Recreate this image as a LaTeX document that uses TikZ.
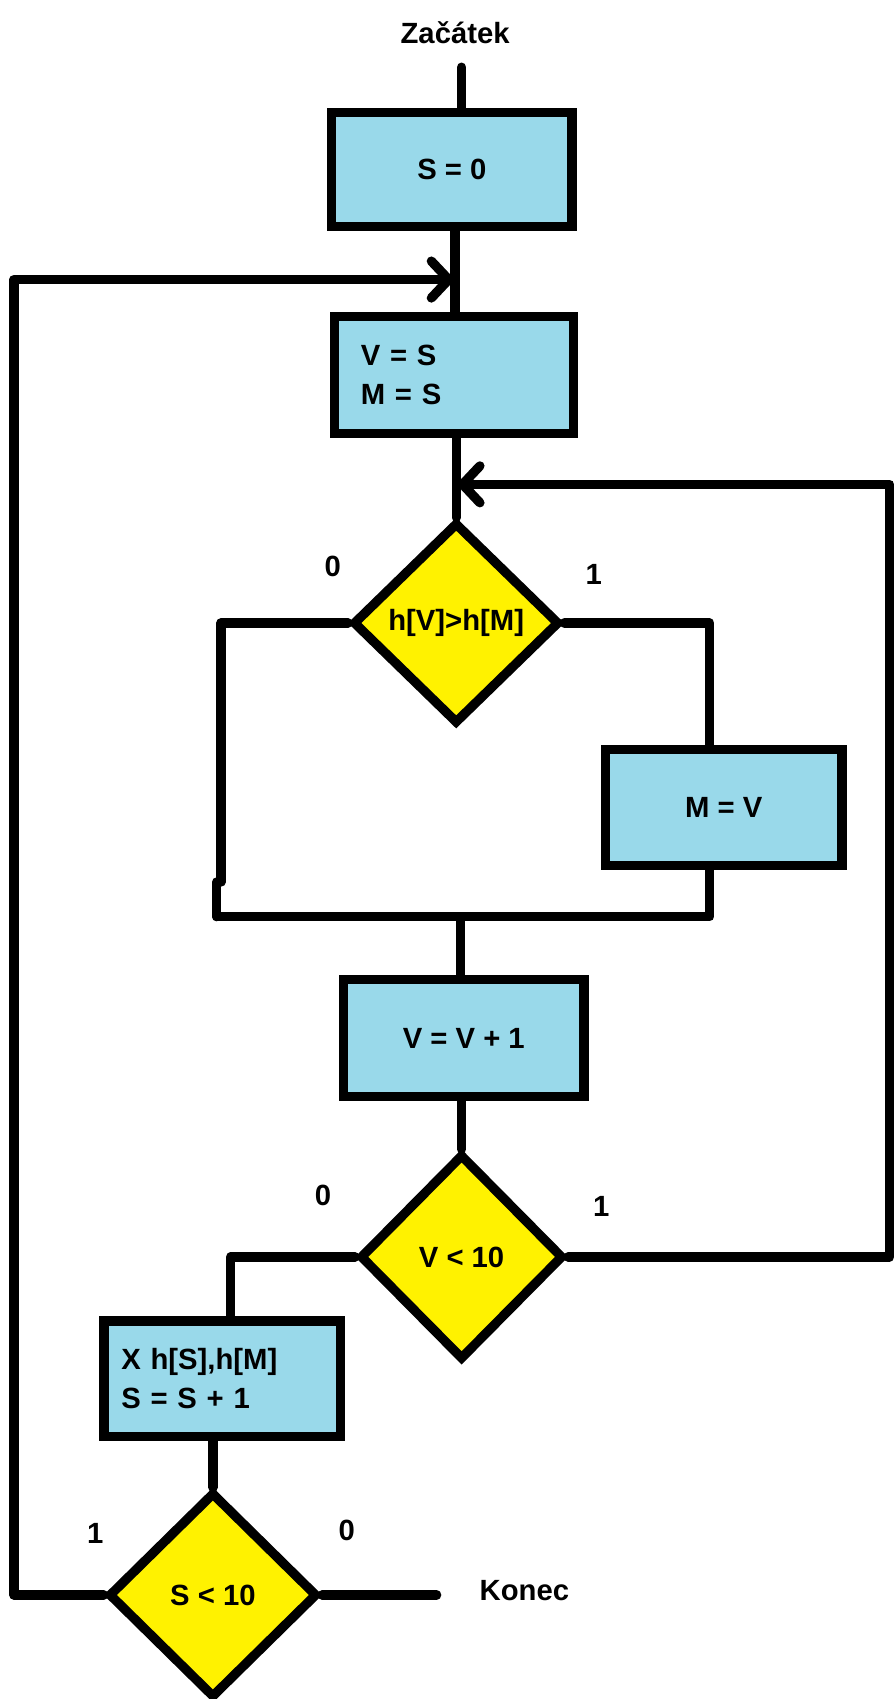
\documentclass[tikz,border=0pt]{standalone}
\usepackage{fontspec}
\setmainfont{Liberation Sans}
\usetikzlibrary{shapes.geometric,arrows.meta}
\definecolor{boxblue}{HTML}{99D9EA}
\definecolor{diayellow}{HTML}{FFF200}
\begin{document}
\begin{tikzpicture}[x=0.5pt,y=-0.5pt,
  every node/.style={font=\fontsize{13.5}{18}\selectfont\bfseries},
  flow/.style={line width=4.3pt, line cap=round, line join=round},
  barb/.style={flow, -{Straight Barb[length=8pt,width=17pt,line cap=round]}},
  procbox/.style={draw, line width=4.3pt, line join=miter, fill=boxblue,
    rectangle, inner sep=0pt, align=center},
  decision/.style={draw, line width=4.3pt, line join=miter, fill=diayellow,
    diamond, inner sep=0pt, aspect=1},
  lbl/.style={inner sep=0pt}]
\useasboundingbox (0,0) rectangle (825,1568);

% process boxes
\node[procbox, minimum width=111pt, minimum height=52.5pt] (b1) at (417,156.5) {S = 0};
\node[procbox, minimum height=54pt, text width=86pt, inner xsep=12pt, align=left]
  (b2) at (419,346) {V = S\\M = S};
\node[procbox, minimum width=109pt, minimum height=53.5pt] (bm) at (668,745.5) {M = V};
\node[procbox, minimum width=111pt, minimum height=54pt] (b3) at (428,958) {V = V + 1};
\node[procbox, minimum height=53.5pt, text width=93pt, inner xsep=8pt, align=left]
  (bx) at (205,1272.5) {X h[S],h[M]\\S = S + 1};

% decisions
\node[decision, minimum width=95.5pt, minimum height=93pt] (d1) at (421,575) {h[V]>h[M]};
\node[decision, minimum width=94pt, minimum height=95pt] (d2) at (426,1160) {V < 10};
\node[decision, minimum width=96.5pt, minimum height=95pt] (d3) at (196.5,1472) {S < 10};

% terminal texts
\node[lbl] (start) at (420,30) {Začátek};
\node[lbl] (stop) at (484,1468) {Konec};

% branch labels
\node[lbl] (d1no)  at (307,523) {0};
\node[lbl] (d1yes) at (548,530) {1};
\node[lbl] (d2no)  at (298,1103) {0};
\node[lbl] (d2yes) at (555,1113) {1};
\node[lbl] (d3yes) at (88,1415) {1};
\node[lbl] (d3no)  at (320,1412) {0};

% junction points
\coordinate (in0) at (426,62);
\coordinate (ax1) at (420,0);
\coordinate (ax3) at (425,0);
\coordinate (m0) at (420,258);
\coordinate (m1) at (421,447);
\coordinate (rm) at (655,0);
\coordinate (jt) at (204,814);
\coordinate (jb) at (200,814);
\coordinate (jl) at (200,846);
\coordinate (rr) at (821,447);
\coordinate (xl) at (213,0);
\coordinate (ll) at (13,258);
\coordinate (out) at (403,1472);

% connectors
\draw[flow] (in0) -- (in0 |- b1.north);
\draw[flow] (b1.south -| ax1) -- (b2.north -| ax1);
\draw[flow] (b2.south -| d1.north) -- (d1.north);
\draw[flow] (d1.west) -| (jt);
\draw[flow] (jb) -- (jl);
\draw[flow] (d1.east) -| (bm.north -| rm);
\draw[flow] (bm.south -| rm) |- (jl);
\draw[flow] (jl -| ax3) -- (b3.north -| ax3);
\draw[flow] (b3.south -| d2.north) -- (d2.north);
\draw[barb] (d2.east) -| (rr) -- (m1);
\draw[flow] (d2.west) -| (bx.north -| xl);
\draw[flow] (bx.south -| d3.north) -- (d3.north);
\draw[barb] (d3.west) -| (ll) -- (m0);
\draw[flow] (d3.east) -- (out);
\end{tikzpicture}
\end{document}
